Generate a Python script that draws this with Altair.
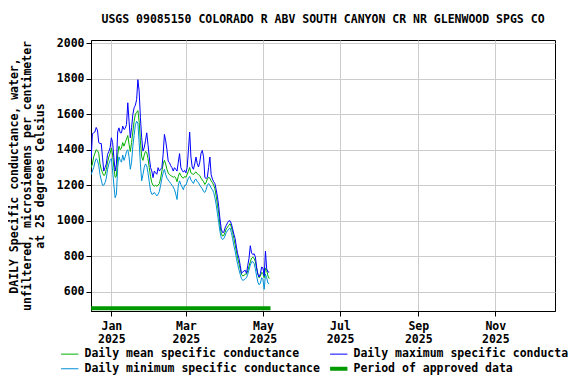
import altair as alt
import pandas as pd

TITLE = "USGS 09085150 COLORADO R ABV SOUTH CANYON CR NR GLENWOOD SPGS CO"
Y_TITLE = ["DAILY Specific conductance, water,",
           "unfiltered, microsiemens per centimeter",
           "at 25 degrees Celsius"]

start_date = "2024-12-16"

daily_max = [
    1350, 1490, 1495, 1500, 1525, 1510, 1440, 1435, 1435, 1355, 1280, 1300, 1320, 1374, 1390, 1411,
    1467, 1440, 1355, 1280, 1318, 1500, 1523, 1495, 1495, 1533, 1514, 1520, 1542, 1664, 1560, 1467,
    1523, 1598, 1636, 1650, 1682, 1794, 1729, 1580, 1467, 1392, 1411, 1450, 1495, 1430, 1360, 1300,
    1280, 1243, 1280, 1270, 1262, 1299, 1280, 1290, 1299, 1374, 1486, 1450, 1400, 1336, 1327, 1310,
    1299, 1280, 1299, 1290, 1280, 1330, 1378, 1300, 1284, 1274, 1284, 1270, 1300, 1396, 1499, 1359,
    1303, 1290, 1320, 1359, 1321, 1303, 1330, 1380, 1396, 1360, 1246, 1237, 1246, 1300, 1359, 1260,
    1235, 1220, 1209, 1175, 1135, 1080, 1010, 955, 935, 935, 960, 975, 990, 1000, 1000, 984,
    955, 925, 900, 853, 815, 790, 750, 705, 712, 718, 722, 705, 750, 790, 860, 820,
    810, 815, 797, 740, 700, 684, 703, 740, 735, 690, 830, 730, 712, 712,
]

daily_mean = [
    1300, 1320, 1360, 1380, 1400, 1395, 1380, 1320, 1290, 1270, 1255, 1260, 1290, 1330, 1360, 1380,
    1410, 1370, 1300, 1245, 1250, 1370, 1420, 1400, 1410, 1440, 1420, 1440, 1460, 1480, 1430, 1390,
    1440, 1500, 1560, 1600, 1610, 1620, 1560, 1450, 1360, 1340, 1370, 1390, 1385, 1350, 1300, 1250,
    1215, 1200, 1195, 1200, 1195, 1200, 1210, 1240, 1280, 1320, 1340, 1320, 1290, 1270, 1260, 1255,
    1250, 1245, 1250, 1240, 1220, 1250, 1270, 1255, 1245, 1240, 1250, 1245, 1260, 1280, 1300, 1270,
    1265, 1260, 1270, 1275, 1265, 1260, 1255, 1240, 1230, 1220, 1205, 1215, 1235, 1245, 1240, 1225,
    1215, 1200, 1180, 1140, 1090, 1040, 975, 930, 915, 918, 935, 955, 965, 975, 984, 965,
    935, 900, 865, 830, 790, 760, 730, 700, 690, 693, 700, 700, 720, 745, 770, 790,
    795, 790, 770, 730, 700, 680, 690, 710, 705, 680, 735, 720, 690, 675,
]

daily_min = [
    1260, 1280, 1300, 1330, 1350, 1340, 1310, 1260, 1230, 1200, 1200, 1215, 1240, 1290, 1320, 1340,
    1350, 1280, 1200, 1130, 1150, 1300, 1360, 1340, 1330, 1370, 1340, 1360, 1390, 1400, 1360, 1290,
    1330, 1420, 1480, 1540, 1560, 1550, 1440, 1320, 1225, 1260, 1300, 1320, 1310, 1270, 1220, 1170,
    1150, 1150, 1160, 1150, 1140, 1150, 1165, 1200, 1240, 1270, 1290, 1260, 1240, 1230, 1220, 1210,
    1200, 1190, 1175, 1150, 1120, 1200, 1225, 1205, 1190, 1175, 1200, 1200, 1220, 1240, 1250, 1230,
    1220, 1210, 1230, 1235, 1220, 1215, 1200, 1190, 1180, 1165, 1160, 1175, 1200, 1210, 1200, 1185,
    1175, 1160, 1130, 1090, 1040, 990, 940, 905, 895, 900, 915, 935, 945, 955, 960, 935,
    900, 860, 830, 790, 755, 725, 700, 675, 665, 668, 675, 680, 700, 725, 750, 770,
    770, 760, 730, 690, 655, 640, 650, 680, 670, 615, 700, 680, 650, 645,
]

approved_dates = ["2024-12-16", "2025-05-07"]
approved_level = [508, 508]

MEAN = "Daily mean specific conductance"
MAX = "Daily maximum specific conductance"
MIN = "Daily minimum specific conductance"
APPR = "Period of approved data"

# legend grid fills column-wise: this order gives mean|max on row 1, min|approved on row 2
legend_order = [MEAN, MIN, MAX, APPR]
legend_colors = ["#00b000", "#0090d8", "#0000ff", "#009900"]
line_widths = {MEAN: 1, MAX: 1, MIN: 1, APPR: 4}

y_ticks = [600, 800, 1000, 1200, 1400, 1600, 1800, 2000]
x_tick_months = [1, 3, 5, 7, 9, 11]

dates = pd.date_range(start_date, periods=len(daily_max), freq="D").strftime("%Y-%m-%dT00:00:00Z")
rows = []
for name, vals in [(MEAN, daily_mean), (MAX, daily_max), (MIN, daily_min)]:
    for d, v in zip(dates, vals):
        rows.append({"date": d, "value": v, "series": name, "w": line_widths[name]})
for d, v in zip(approved_dates, approved_level):
    rows.append({"date": d + "T00:00:00Z", "value": v, "series": APPR, "w": line_widths[APPR]})
df = pd.DataFrame(rows)

FONT = "DejaVu Sans Mono"
FS = 11.5

x_enc = alt.X(
    "date:T",
    scale=alt.Scale(type="utc",
                    domain=[alt.DateTime(year=2024, month=12, date=15, hours=21, utc=True),
                            alt.DateTime(year=2025, month=12, date=18, hours=6, utc=True)]),
    axis=alt.Axis(
        title=None,
        values=[alt.DateTime(year=2025, month=m, date=1, utc=True) for m in x_tick_months],
        labelExpr="[utcFormat(datum.value, '%b'), utcFormat(datum.value, '%Y')]",
        grid=True, tickSize=5, labelPadding=4, labelAngle=0, labelLineHeight=13,
    ),
)
y_enc = alt.Y(
    "value:Q",
    scale=alt.Scale(domain=[493, 2017], nice=False, zero=False),
    axis=alt.Axis(title=Y_TITLE, values=y_ticks, format="d", grid=True, tickSize=5,
                  labelPadding=2, titlePadding=11, titleLineHeight=13),
)

chart = alt.Chart(df).mark_line(clip=True).encode(
    x=x_enc,
    y=y_enc,
    color=alt.Color("series:N",
                    scale=alt.Scale(domain=legend_order, range=legend_colors),
                    legend=alt.Legend(title=None, orient="none", legendX=-27, legendY=308,
                                      columns=2, symbolType="stroke", symbolSize=300,
                                      symbolStrokeWidth=alt.ExprRef(
                                          expr="datum.value == '" + APPR + "' ? 4 : 1"),
                                      columnPadding=2, rowPadding=0, labelOffset=9,
                                      labelFont=FONT, labelFontSize=FS, labelFontWeight="bold",
                                      labelColor="black", labelLimit=400)),
    strokeWidth=alt.StrokeWidth("w:Q", scale=None, legend=None),
    detail="series:N",
).properties(
    width=464,
    height=271,
    title=alt.TitleParams(TITLE, anchor="middle", font=FONT, fontSize=FS, fontWeight="bold",
                          color="black", offset=12),
    autosize=alt.AutoSizeParams(type="none"),
    padding={"left": 83, "top": 32, "right": 13, "bottom": 65},
    background="white",
).configure_view(
    stroke="black", strokeWidth=1,
).configure_axis(
    labelFont=FONT, labelFontSize=FS, labelFontWeight="bold", labelColor="black",
    titleFont=FONT, titleFontSize=FS, titleFontWeight="bold", titleColor="black",
    gridColor="#cccccc", gridWidth=1, domainColor="black", tickColor="black",
)

chart.save("out.html", embed_options={"renderer": "svg", "actions": False})
